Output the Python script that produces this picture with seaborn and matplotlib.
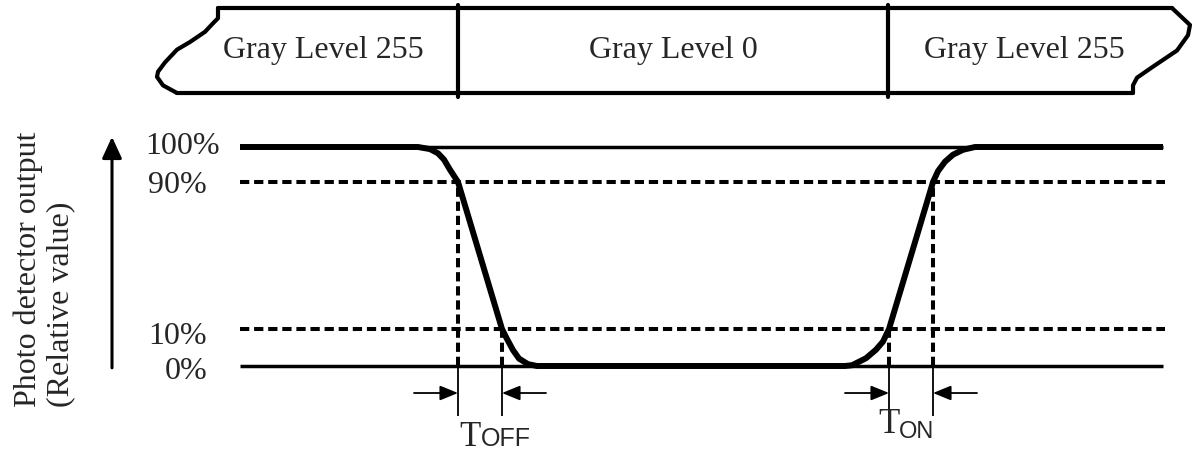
import numpy as np
import matplotlib
matplotlib.use("Agg")
import matplotlib.pyplot as plt
import seaborn as sns

# Data: photo detector response to a gray level step (time in arbitrary units)
levels = [0, 10, 90, 100]                 # reference levels (%)
level_labels = ["0%", "10%", "90%", "100%"]
level_pos = [0, 37, 184, 219]             # schematic (not to scale) drawing heights

# signal trace
signal_t = [240, 418, 430, 438, 444, 450, 458, 502, 507, 513, 519, 528, 537,
            845, 852, 866, 876, 883, 889, 933, 938, 945, 953, 963, 975, 1163]
signal_pct = [100, 100, 99.4, 98.2, 96.4, 93.5, 90, 10, 7.3, 4.3, 2.0, 0.5, 0,
              0, 0.2, 2.1, 4.4, 6.6, 10, 90, 93.1, 95.8, 97.8, 99.2, 100, 100]

# crossing times for the 90% / 10% points
t_off = [458, 502]    # falling edge: 90% -> 10%
t_on = [889, 933]     # rising edge: 10% -> 90%
t_start, t_end = 240, 1163

# gray level bar on top
bar_edges = [188, 458, 888, 1161]
bar_labels = ["Gray Level 255", "Gray Level 0", "Gray Level 255"]

W, H = 1194, 454
sns.set_theme(style="white")
plt.rcParams['font.family'] = ['Liberation Serif', 'DejaVu Serif']
serif = 'Liberation Serif'
sans = 'Liberation Sans'


def fwd(v):
    v = np.asarray(v, dtype=float)
    lo = v * (level_pos[1] / levels[1])
    hi = level_pos[-1] + (v - 100) * (level_pos[-1] - level_pos[-2]) / 10.0
    mid = np.interp(v, levels, level_pos)
    return np.where(v < 0, lo, np.where(v > 100, hi, mid))


def inv(p):
    p = np.asarray(p, dtype=float)
    lo = p / (level_pos[1] / levels[1])
    hi = 100 + (p - level_pos[-1]) * 10.0 / (level_pos[-1] - level_pos[-2])
    mid = np.interp(p, level_pos, levels)
    return np.where(p < 0, lo, np.where(p > level_pos[-1], hi, mid))


fig = plt.figure(figsize=(W / 100, H / 100), dpi=100)
fig.patch.set_facecolor('white')

ax = fig.add_axes([0, 0, 1, 1])
ax.set_yscale('function', functions=(fwd, inv))
ax.set_xlim(0, W)
ax.set_ylim(float(inv(-(H - 366))), float(inv(366)))
ax.set_axis_off()

dash = [(0, (2.3, 1.2))]

# reference levels
for lv in [0, 100]:
    ax.hlines(lv, t_start, t_end, color='black', lw=2.5)
for lv in [10, 90]:
    ax.hlines(lv, t_start, t_end + 2, color='black', lw=2.9, linestyles=dash)

# crossing verticals
for t, lv in zip(t_off + t_on, [90, 10, 10, 90]):
    ax.vlines(t, 0, lv, color='black', lw=2.9, linestyles=dash)
    ax.vlines(t, -13.5, 0, color='black', lw=1.3)

# the signal
sns.lineplot(x=signal_t, y=signal_pct, ax=ax, color='black', lw=4.3,
             estimator=None, sort=False, solid_capstyle='butt',
             solid_joinstyle='round')

# dimension arrows
arr = dict(arrowstyle='-|>,head_length=11,head_width=4.5', color='black',
           lw=1.3, shrinkA=0, shrinkB=0, mutation_scale=1)
y_arr = -7.3
for pair in (t_off, t_on):
    ax.annotate('', xy=(pair[0], y_arr), xytext=(pair[0] - 44, y_arr), arrowprops=arr)
    ax.annotate('', xy=(pair[1], y_arr), xytext=(pair[1] + 44, y_arr), arrowprops=arr)

ax.text(t_off[0] + 23, -21.7, "T", fontsize=25, family=serif, ha='right', va='baseline')
ax.text(t_off[0] + 23, -21.7, "OFF", fontsize=18, family=sans, ha='left', va='baseline')
ax.text(t_on[0] + 11, -18.1, "T", fontsize=25, family=serif, ha='right', va='baseline')
ax.text(t_on[0] + 10, -19.5, "ON", fontsize=17, family=sans, ha='left', va='baseline')

# level labels
lab_x = [207, 207, 207, 220]
lab_dy = [-1.4, -2.0, -2.0, 0]
for lv, lab, lx, dy in zip(levels, level_labels, lab_x, lab_dy):
    ax.text(lx, lv + dy, lab, fontsize=23, family=serif, ha='right', va='center')

# y direction arrow and label
ax.annotate('', xy=(112, 102.9), xytext=(112, -0.5),
            arrowprops=dict(arrowstyle='-|>,head_length=13,head_width=6', color='black',
                            lw=2.2, shrinkA=0, shrinkB=0, mutation_scale=1))
ax.text(44, -11.0, "Photo detector output\n(Relative value)", rotation=90,
        fontsize=23, family=serif, ha='center', va='bottom', multialignment='left',
        linespacing=1.15)

# gray level bar
axb = fig.add_axes([0, (H - 93) / H, 1, 85 / H])
axb.set_xlim(0, W)
axb.set_ylim(0, 1)
axb.set_axis_off()
axb.patch.set_alpha(0)

left_dx = [30, 30, 25, 17, 2, -11, -23, -30, -31, -25, -11]
left_fy = [1, 0.88, 0.82, 0.72, 0.6, 0.51, 0.36, 0.25, 0.19, 0.09, 0]
right_dx = [11, 29, 27, 16, -8, -24, -28, -28]
right_fy = [1, 0.8, 0.68, 0.5, 0.31, 0.18, 0.09, 0]

x0, x1 = bar_edges[0], bar_edges[-1]
bar_lw = 3.0
axb.plot([x0 + left_dx[0], x1 + right_dx[0]], [1, 1], color='black', lw=bar_lw, clip_on=False)
axb.plot([x0 + left_dx[-1], x1 + right_dx[-1]], [0, 0], color='black', lw=bar_lw, clip_on=False)
axb.plot([x0 + d for d in left_dx], left_fy, color='black', lw=bar_lw, clip_on=False,
         solid_joinstyle='round')
axb.plot([x1 + d for d in right_dx], right_fy, color='black', lw=bar_lw, clip_on=False,
         solid_joinstyle='round')
for e in bar_edges[1:-1]:
    axb.plot([e, e], [-0.05, 1.04], color='black', lw=bar_lw, clip_on=False)
for a, b, lab in zip(bar_edges[:-1], bar_edges[1:], bar_labels):
    axb.text((a + b) / 2, 0.5, lab, fontsize=23, family=serif, ha='center', va='center')

fig.savefig("out.png", dpi=100, facecolor='white')
